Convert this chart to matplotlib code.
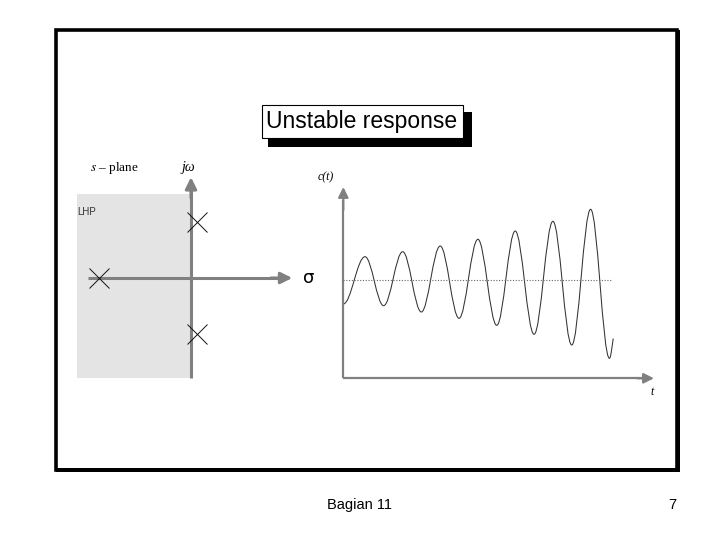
import matplotlib
matplotlib.use("Agg")
import matplotlib.pyplot as plt
from matplotlib.patches import Rectangle
from matplotlib.path import Path
from matplotlib.patches import PathPatch
from matplotlib import font_manager

plt.rcParams["mathtext.fontset"] = "stix"

# s-plane: pole positions (sigma, omega)
pole_sigma = [-2.3, 0.15, 0.15]
pole_omega = [0.0, 1.4, -1.4]

# c(t): turning points (t in periods, dotted level = 1)
ext_t = [0.0, 0.576, 1.07, 1.575, 2.07, 2.57, 3.07, 3.57, 4.07, 4.56, 5.06, 5.56, 6.06, 6.56, 7.06]
ext_c = [0.52, 1.466, 0.486, 1.566, 0.36, 1.68, 0.234, 1.814, 0.094, 1.98, -0.086, 2.174, -0.30, 2.414, -0.566]
end_t, end_c = 7.16, -0.17
level_c = 1.0

title = "Unstable response"
footer = "Bagian 11"
page = "7"

W, H = 720, 540
AXC = "#808080"


def fx(x):
    return x / W


def fy(y):
    return 1 - y / H


def title_font():
    try:
        font_manager.findfont("Liberation Sans Narrow", fallback_to_default=False)
        return "Liberation Sans Narrow", 20
    except Exception:
        return "Liberation Sans", 16.5


fig = plt.figure(figsize=(7.2, 5.4), dpi=100)

# slide frame (right/bottom edges a touch heavier, as on the slide)
fig.patches.append(Rectangle((fx(55.7), fy(469.5)), fx(677) - fx(55.7), fy(30) - fy(469.5),
                             transform=fig.transFigure, fill=False, ec="black", lw=2.6))
fig.patches.append(Rectangle((fx(676), fy(471.5)), fx(679.5) - fx(676), fy(30) - fy(471.5),
                             transform=fig.transFigure, fc="black", ec="none"))
fig.patches.append(Rectangle((fx(55.7), fy(471.5)), fx(679.5) - fx(55.7), fy(468) - fy(471.5),
                             transform=fig.transFigure, fc="black", ec="none"))

# title box with shadow
fig.patches.append(Rectangle((fx(268), fy(146.7)), fx(471.7) - fx(268), fy(112) - fy(146.7),
                             transform=fig.transFigure, fc="black", ec="none"))
fig.patches.append(Rectangle((fx(261.7), fy(138.3)), fx(463.3) - fx(261.7), fy(105) - fy(138.3),
                             transform=fig.transFigure, fc="white", ec="black", lw=0.8))
tf, ts = title_font()
fig.text(fx(362), fy(122), title, ha="center", va="center", fontsize=ts, family=tf)

# footer
fig.text(fx(359.5), fy(505), footer, ha="center", va="center", fontsize=10.5, family="Liberation Sans")
fig.text(fx(672), fy(505), page, ha="center", va="center", fontsize=10.5, family="Liberation Sans")

# ---- s-plane ----
ax1 = fig.add_axes([fx(70), fy(390), fx(320) - fx(70), fy(150) - fy(390)])
ax1.set_xlim(-3.025, 3.225)
ax1.set_ylim(-2.8, 3.2)
ax1.axis("off")
ax1.add_patch(Rectangle((-2.85, -2.5), 2.85, 2.09 + 2.5, fc="#e4e4e4", ec="none", zorder=0))
ax1.plot([0, 0], [-2.5, 2.3], color=AXC, lw=2.2, solid_capstyle="butt", zorder=1)
ax1.annotate("", xy=(0, 2.52), xytext=(0, 2.0),
             arrowprops=dict(arrowstyle="-|>", color=AXC, lw=2.2, mutation_scale=17,
                             shrinkA=0, shrinkB=0), zorder=1)
ax1.plot([-2.58, 2.3], [0, 0], color=AXC, lw=2.2, solid_capstyle="butt", zorder=1)
ax1.annotate("", xy=(2.53, 0), xytext=(2.0, 0),
             arrowprops=dict(arrowstyle="-|>", color=AXC, lw=2.2, mutation_scale=17,
                             shrinkA=0, shrinkB=0), zorder=1)
ax1.plot(pole_sigma, pole_omega, ls="none", marker="x", ms=14, mew=0.7, color="#111111", zorder=3)
ax1.text(-1.925, 2.75, r"$s$ – plane", ha="center", va="center", fontsize=9.5,
         family="Liberation Serif")
ax1.text(-0.075, 2.75, "jω", ha="center", va="center", fontsize=10, style="italic",
         family="Liberation Serif")
ax1.text(-2.85, 1.65, "LHP", ha="left", va="center", fontsize=7, color="#333333",
         family="Liberation Sans")
ax1.text(2.93, 0.0, "σ", ha="center", va="center", fontsize=13, family="DejaVu Sans")

# ---- c(t) ----
ax2 = fig.add_axes([fx(330), fy(400), fx(670) - fx(330), fy(170) - fy(400)])
ax2.set_xlim(-0.353, 8.666)
ax2.set_ylim(-1.4, 3.2)
ax2.axis("off")
base = -0.966
ax2.plot([0, 0], [base, 2.6], color=AXC, lw=1.6, solid_capstyle="butt")
ax2.annotate("", xy=(0, 2.86), xytext=(0, 2.4),
             arrowprops=dict(arrowstyle="-|>", color=AXC, lw=1.6, mutation_scale=15,
                             shrinkA=0, shrinkB=0))
ax2.plot([0, 8.0], [base, base], color=AXC, lw=1.6, solid_capstyle="butt")
ax2.annotate("", xy=(8.24, base), xytext=(7.8, base),
             arrowprops=dict(arrowstyle="-|>", color=AXC, lw=1.6, mutation_scale=15,
                             shrinkA=0, shrinkB=0))
ax2.plot([0, 7.13], [level_c, level_c], color="#666666", lw=0.8, ls=(0, (1, 1.5)))

# smooth curve through the turning points (cubic Bezier, flat at each turn)
k = 0.364
verts = [(ext_t[0], ext_c[0])]
codes = [Path.MOVETO]
for i in range(len(ext_t) - 1):
    t0, c0, t1, c1 = ext_t[i], ext_c[i], ext_t[i + 1], ext_c[i + 1]
    dt = t1 - t0
    verts += [(t0 + k * dt, c0), (t1 - k * dt, c1), (t1, c1)]
    codes += [Path.CURVE4] * 3
dt = end_t - ext_t[-1]
verts += [(ext_t[-1] + k * dt, ext_c[-1]), (end_t - 0.3 * dt, end_c - 0.15), (end_t, end_c)]
codes += [Path.CURVE4] * 3
ax2.add_patch(PathPatch(Path(verts, codes), fill=False, ec="#333333", lw=0.75))

ax2.text(-0.46, 3.06, "c(t)", ha="center", va="center", fontsize=8.5, style="italic",
         family="Liberation Serif")
ax2.text(8.19, -1.24, "t", ha="center", va="center", fontsize=8.5, style="italic",
         family="Liberation Serif")

fig.savefig("out.png", dpi=100)
